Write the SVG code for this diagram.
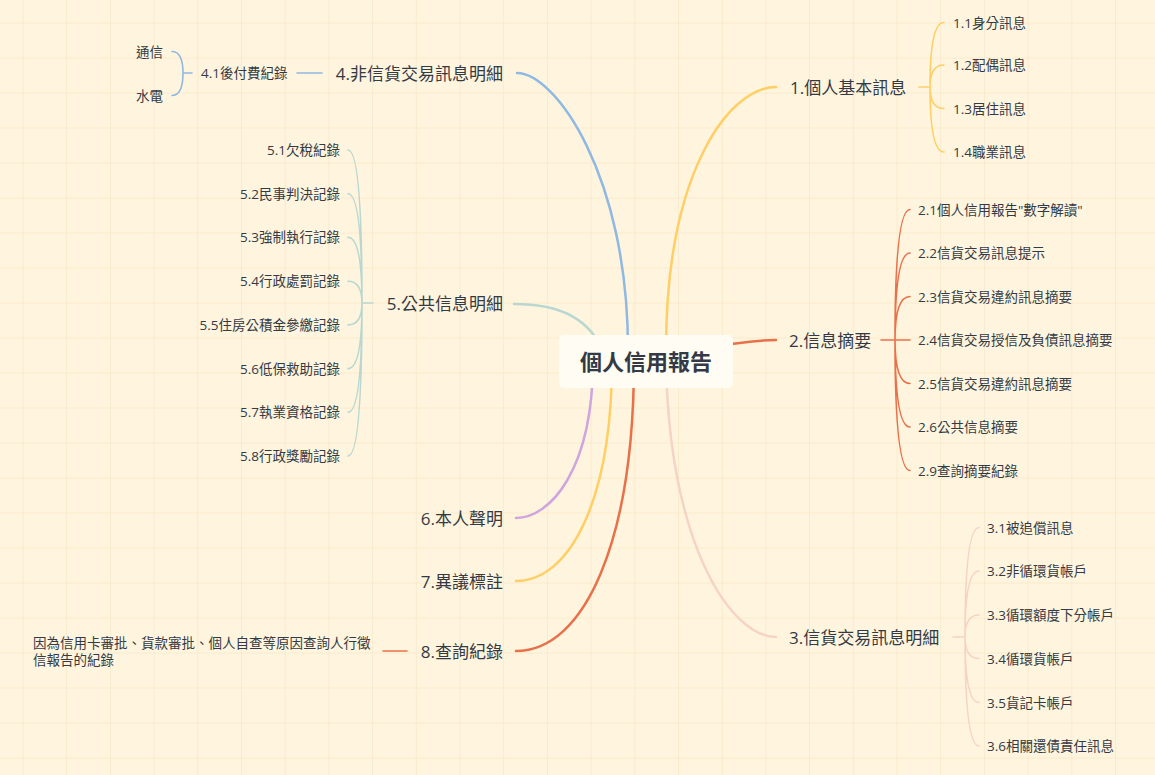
<svg xmlns="http://www.w3.org/2000/svg" width="1155" height="775" viewBox="0 0 1155 775">
<style>
text{font-family:"Open Sans","Noto Sans CJK TC",sans-serif;fill:#333a45}
.main{font-size:17px}
.sub{font-size:13.5px}
.end{text-anchor:end}
.c{fill:none;stroke-linecap:round}
.m{stroke-width:2.5}
.s{stroke-width:1.6}
.blue{stroke:#8fb8e3}
.yel{stroke:#ffcf66}
.red{stroke:#e8704a}
.pink{stroke:#f6d3c4}
.teal{stroke:#b8d7d0}
.pur{stroke:#cfa4df}
</style>
<rect width="1155" height="775" fill="#fff5de"/>
<path fill="none" stroke="#f9eacd" stroke-width="1" d="M23,0V775M66.7,0V775M110.4,0V775M154.1,0V775M197.8,0V775M241.5,0V775M285.2,0V775M328.9,0V775M372.6,0V775M416.3,0V775M460,0V775M503.7,0V775M547.4,0V775M591.1,0V775M634.8,0V775M678.5,0V775M722.2,0V775M765.9,0V775M809.6,0V775M853.3,0V775M897,0V775M940.7,0V775M984.4,0V775M1028.1,0V775M1071.8,0V775M1115.5,0V775M0,23H1155M0,58H1155M0,93H1155M0,128H1155M0,163H1155M0,198H1155M0,233H1155M0,268H1155M0,303H1155M0,338H1155M0,373H1155M0,408H1155M0,443H1155M0,478H1155M0,513H1155M0,548H1155M0,583H1155M0,618H1155M0,653H1155M0,688H1155M0,723H1155M0,758H1155"/>
<g id="connectors">
<path class="c m yel" d="M666,350 C666,170 730,87 776,87"/>
<path class="c m red" d="M690,348 C740,345 745,340 776,340"/>
<path class="c m pink" d="M666,350 C666,540 730,637 776,637"/>
<path class="c m blue" d="M628,350 C628,175 555,73 517,73"/>
<path class="c m teal" d="M605,355 C590,318 560,304 514,304"/>
<path class="c m pur" d="M593,360 C593,470 550,518 516,518"/>
<path class="c m yel" d="M612,360 C612,500 570,581 516,581"/>
<path class="c m red" d="M634,360 C634,540 585,651 516,651"/>
<path class="c s yel" d="M919,87H930M930,87Q930,22.5 944,22.5M930,87Q930,65 944,65M930,87Q930,108.5 944,108.5M930,87Q930,152 944,152"/>
<path class="c s red" d="M881,340H895M895,340Q895,209.5 910,209.5M895,340Q895,253 910,253M895,340Q895,296.5 910,296.5M895,340H910M895,340Q895,383.5 910,383.5M895,340Q895,427 910,427M895,340Q895,470.5 910,470.5"/>
<path class="c s pink" d="M953,637H965M965,637Q965,527.5 979,527.5M965,637Q965,571 979,571M965,637Q965,615 979,615M965,637Q965,658.5 979,658.5M965,637Q965,702.5 979,702.5M965,637Q965,746 979,746"/>
<path class="c s teal" d="M373,303H362M362,303Q362,150 348,150M362,303Q362,193.7 348,193.7M362,303Q362,237.4 348,237.4M362,303Q362,281.2 348,281.2M362,303Q362,324.9 348,324.9M362,303Q362,368.6 348,368.6M362,303Q362,412.3 348,412.3M362,303Q362,456 348,456"/>
<path class="c s blue" d="M297,73H322M192,73H183M183,73Q183,51.5 172,51.5M183,73Q183,95.5 172,95.5"/>
<path class="c s red" d="M383,651H407"/>
</g>
<g id="root">
<rect x="559" y="335" width="174" height="53" rx="5" fill="#fffdf3"/>
<text x="646" y="370" text-anchor="middle" font-size="22" font-weight="bold" fill="#2b3038">個人信用報告</text>
</g>
<g id="n1"><text class="main" x="790" y="93.5">1.個人基本訊息</text></g>
<g id="n1-1"><text class="sub" x="953" y="27.5">1.1身分訊息</text></g>
<g id="n1-2"><text class="sub" x="953" y="70">1.2配偶訊息</text></g>
<g id="n1-3"><text class="sub" x="953" y="113.5">1.3居住訊息</text></g>
<g id="n1-4"><text class="sub" x="953" y="157">1.4職業訊息</text></g>
<g id="n2"><text class="main" x="789" y="346.5">2.信息摘要</text></g>
<g id="n2-1"><text class="sub" x="918" y="214.5">2.1個人信用報告"數字解讀"</text></g>
<g id="n2-2"><text class="sub" x="918" y="258">2.2信貨交易訊息提示</text></g>
<g id="n2-3"><text class="sub" x="918" y="301.5">2.3信貨交易違約訊息摘要</text></g>
<g id="n2-4"><text class="sub" x="918" y="345">2.4信貨交易授信及負債訊息摘要</text></g>
<g id="n2-5"><text class="sub" x="918" y="388.5">2.5信貨交易違約訊息摘要</text></g>
<g id="n2-6"><text class="sub" x="918" y="432">2.6公共信息摘要</text></g>
<g id="n2-9"><text class="sub" x="918" y="475.5">2.9查詢摘要紀錄</text></g>
<g id="n3"><text class="main" x="789" y="643.5">3.信貨交易訊息明細</text></g>
<g id="n3-1"><text class="sub" x="987" y="532.5">3.1被追償訊息</text></g>
<g id="n3-2"><text class="sub" x="987" y="576">3.2非循環貨帳戶</text></g>
<g id="n3-3"><text class="sub" x="987" y="620">3.3循環額度下分帳戶</text></g>
<g id="n3-4"><text class="sub" x="987" y="663.5">3.4循環貨帳戶</text></g>
<g id="n3-5"><text class="sub" x="987" y="707.5">3.5貨記卡帳戶</text></g>
<g id="n3-6"><text class="sub" x="987" y="751">3.6相關還債責任訊息</text></g>
<g id="n4"><text class="main end" x="503" y="79.5">4.非信貨交易訊息明細</text></g>
<g id="n4-1"><text class="sub" x="201" y="78">4.1後付費紀錄</text></g>
<g id="n4-1-1"><text class="sub end" x="163" y="56.5">通信</text></g>
<g id="n4-1-2"><text class="sub end" x="163" y="100.5">水電</text></g>
<g id="n5"><text class="main end" x="503" y="309.5">5.公共信息明細</text></g>
<g id="n5-1"><text class="sub end" x="340" y="155">5.1欠稅紀錄</text></g>
<g id="n5-2"><text class="sub end" x="340" y="198.7">5.2民事判決記錄</text></g>
<g id="n5-3"><text class="sub end" x="340" y="242.4">5.3強制執行記錄</text></g>
<g id="n5-4"><text class="sub end" x="340" y="286.2">5.4行政處罰記錄</text></g>
<g id="n5-5"><text class="sub end" x="340" y="329.9">5.5住房公積金參繳記錄</text></g>
<g id="n5-6"><text class="sub end" x="340" y="373.6">5.6低保救助記錄</text></g>
<g id="n5-7"><text class="sub end" x="340" y="417.3">5.7執業資格記錄</text></g>
<g id="n5-8"><text class="sub end" x="340" y="461">5.8行政獎勵記錄</text></g>
<g id="n6"><text class="main end" x="503" y="524.5">6.本人聲明</text></g>
<g id="n7"><text class="main end" x="503" y="587.5">7.異議標註</text></g>
<g id="n8"><text class="main end" x="503" y="657.5">8.查詢紀錄</text></g>
<g id="n8-1"><text class="sub" x="33" y="648">因為信用卡審批、貨款審批、個人自查等原因查詢人行徵</text><text class="sub" x="33" y="664.5">信報告的紀錄</text></g>
</svg>
